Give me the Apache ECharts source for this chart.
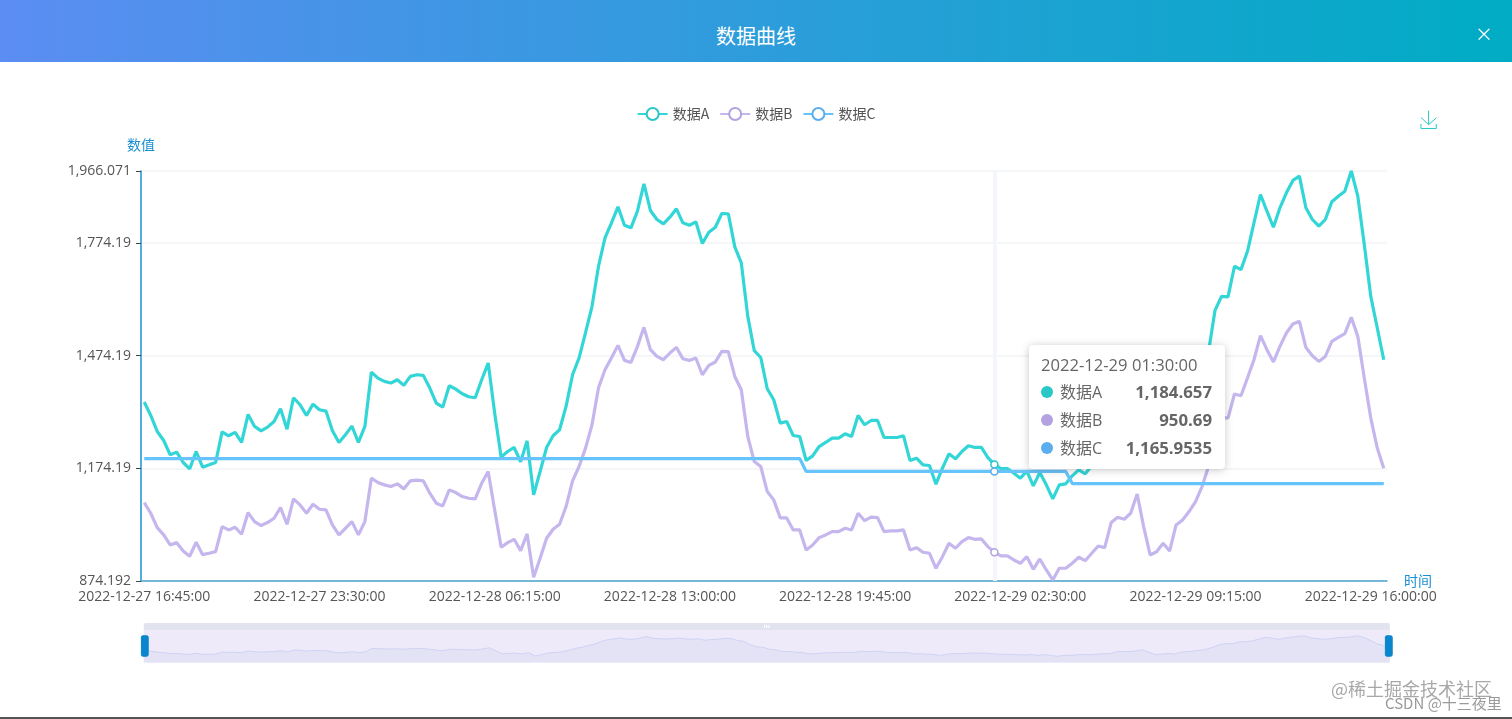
<!DOCTYPE html>
<html>
<head>
<meta charset="utf-8">
<title>数据曲线</title>
<script src="https://cdn.jsdelivr.net/npm/echarts@6/dist/echarts.min.js"></script>
<style>
  html, body { margin: 0; padding: 0; width: 1512px; height: 719px; overflow: hidden; background: #fff; font-family: "Noto Sans CJK SC", sans-serif; }
  #header { position: absolute; left: 0; top: 0; width: 1512px; height: 62px; line-height: 74px; text-align: center; color: #fff; font-size: 20px;
    background: linear-gradient(90deg, #5b8df2 0%, #00acc4 100%); }
  #header span { display: block; height: 62px; line-height: 72px; }
  #close { position: absolute; left: 1475px; top: 0; font-size: 18px; color: #fff; line-height: 66px; }
  #chart { position: absolute; left: 0; top: 0; width: 1512px; height: 719px; }
  .mark { position: absolute; white-space: nowrap; z-index: 5; }
  #bottomLine { position: absolute; left: 0; top: 717px; width: 1512px; height: 2px; background: #555; }
</style>
</head>
<body>
<div id="chart"></div>
<div id="header"><span>数据曲线</span><div id="close">×</div></div>
<div class="mark" style="left:1331px;top:675px;font-size:18px;color:#a8a8a8;">@稀土掘金技术社区</div>
<div class="mark" style="left:1385px;top:692px;font-size:15px;color:#9a9a9a;">CSDN @十三夜里</div>
<div id="bottomLine"></div>
<script>
var pointCount = 192;

var yTicks = [874.192, 1174.19, 1474.19, 1774.19, 1966.071];

var dataA = [
  1350.7, 1315.1, 1272.4, 1248.4, 1210.2, 1217.4, 1189.8, 1172.9, 1219.1, 1177.3,
  1183.5, 1189.8, 1271.5, 1260.9, 1269.8, 1243.1, 1317.8, 1285.8, 1274.2, 1284,
  1299.1, 1332.9, 1278.6, 1362.2, 1343.5, 1315.1, 1345.3, 1330.2, 1326.6, 1274.2,
  1243.1, 1263.5, 1286.6, 1243.1, 1285.8, 1430.6, 1414.6, 1405.8, 1401.3, 1410.2,
  1395.1, 1419.1, 1423.5, 1421.8, 1388, 1348, 1337.3, 1394.2, 1385.3, 1372.9,
  1364.9, 1362.2, 1410.2, 1454.6, 1321.3, 1204, 1219.1, 1229.8, 1191.5, 1247.5,
  1103.5, 1165.8, 1229.8, 1260.9, 1276.9, 1339.1, 1423.5, 1468, 1535.5, 1605.7,
  1712.4, 1788, 1828, 1870.7, 1821.7, 1814.7, 1859, 1932.1, 1860.9, 1836.9,
  1825.4, 1843, 1865.4, 1828, 1821.7, 1830.7, 1772.9, 1803, 1816.3, 1852.9,
  1852.1, 1764.1, 1721.4, 1579, 1487.5, 1469.4, 1386.2, 1356.9, 1294.7, 1299,
  1261.7, 1259, 1195, 1207.5, 1232.3, 1243.1, 1254.7, 1254.7, 1266.2, 1259,
  1315.1, 1290.2, 1301.7, 1301.7, 1256.3, 1256.3, 1256.3, 1260.9, 1195, 1201.4,
  1183.5, 1181.7, 1132.1, 1174.7, 1212.9, 1199.5, 1219.1, 1234.2, 1229.8, 1229.8,
  1203, 1184.657, 1173.7, 1173.7, 1161.4, 1148.1, 1167, 1127.5, 1163, 1130.2,
  1092.9, 1130.2, 1132.9, 1154.2, 1170.2, 1159.5, 1180.9, 1205.6, 1200, 1283,
  1301, 1294, 1314, 1378, 1270, 1176, 1186, 1214.6, 1189, 1275,
  1292, 1319.6, 1352.9, 1402.7, 1484.9, 1595, 1632.3, 1630.7, 1712.3, 1703.5,
  1752.3, 1828.1, 1903.5, 1859, 1816.3, 1868.1, 1908.1, 1940.9, 1952.3, 1868.1,
  1836.9, 1819, 1836.9, 1884.1, 1899, 1912.3, 1966.071, 1899, 1770.2, 1632.3,
  1548.1, 1463.5
];

var dataB = [
  1083, 1054.7, 1016.4, 996.9, 970.2, 976.4, 954.2, 940, 977.3, 944.4,
  948, 952.4, 1019.1, 1010.2, 1017.3, 998.6, 1056.4, 1032.4, 1021.8, 1029.8,
  1041.3, 1069.8, 1025.3, 1092.9, 1076.9, 1054.7, 1078.6, 1065.3, 1063.5, 1023.5,
  996.9, 1014.6, 1032.4, 996.9, 1032.4, 1148, 1136.4, 1130.2, 1125.8, 1132.9,
  1119.5, 1140.9, 1142.6, 1140.9, 1108, 1081.3, 1074.2, 1116.9, 1109.8, 1099.1,
  1094.6, 1092.9, 1134.6, 1165.8, 1063.5, 964, 976.4, 985.2, 955.1, 999.5,
  884, 934.6, 988, 1012, 1025.3, 1072.4, 1140.9, 1179.1, 1228, 1290.2,
  1388.9, 1436.9, 1468.9, 1501.7, 1461.7, 1456.3, 1499, 1549.7, 1490.2, 1472.3,
  1463.5, 1481.4, 1496.3, 1466.2, 1461.7, 1468.1, 1423.5, 1448.3, 1457.4, 1485.7,
  1484.9, 1419, 1383.5, 1259, 1192.3, 1179.1, 1112.3, 1090.2, 1042.2, 1042.2,
  1010.2, 1010.2, 956.9, 970.2, 989.7, 996.9, 1005.7, 1005.7, 1014.6, 1010.2,
  1054.7, 1035, 1044.1, 1043, 1005.7, 1007.5, 1007.5, 1010.2, 956.9, 963,
  950.7, 948, 908.1, 939, 974.7, 961.4, 979, 989.7, 985.2, 986.2,
  965.7, 950.69, 940.9, 940.9, 930.2, 921.4, 939, 905.4, 932.9, 903.5,
  876.9, 908.1, 908.1, 921.4, 937.4, 928.3, 948, 967.5, 963, 1029.7,
  1044, 1038.7, 1054.7, 1106, 1019, 943.5, 952, 974.7, 954, 1023.5,
  1036.8, 1059, 1085.7, 1125.7, 1179, 1280, 1309.8, 1308.1, 1372.1, 1367.5,
  1414.7, 1463.5, 1527.5, 1490.2, 1457.4, 1499, 1534.7, 1558.7, 1565.7, 1496.3,
  1474.2, 1459, 1472.3, 1512.3, 1523, 1532.9, 1576.3, 1525.7, 1414.7, 1308.1,
  1228.1, 1174.7
];

var dataC = [
  1200.3, 1200.3, 1200.3, 1200.3, 1200.3, 1200.3, 1200.3, 1200.3, 1200.3, 1200.3,
  1200.3, 1200.3, 1200.3, 1200.3, 1200.3, 1200.3, 1200.3, 1200.3, 1200.3, 1200.3,
  1200.3, 1200.3, 1200.3, 1200.3, 1200.3, 1200.3, 1200.3, 1200.3, 1200.3, 1200.3,
  1200.3, 1200.3, 1200.3, 1200.3, 1200.3, 1200.3, 1200.3, 1200.3, 1200.3, 1200.3,
  1200.3, 1200.3, 1200.3, 1200.3, 1200.3, 1200.3, 1200.3, 1200.3, 1200.3, 1200.3,
  1200.3, 1200.3, 1200.3, 1200.3, 1200.3, 1200.3, 1200.3, 1200.3, 1200.3, 1200.3,
  1200.3, 1200.3, 1200.3, 1200.3, 1200.3, 1200.3, 1200.3, 1200.3, 1200.3, 1200.3,
  1200.3, 1200.3, 1200.3, 1200.3, 1200.3, 1200.3, 1200.3, 1200.3, 1200.3, 1200.3,
  1200.3, 1200.3, 1200.3, 1200.3, 1200.3, 1200.3, 1200.3, 1200.3, 1200.3, 1200.3,
  1200.3, 1200.3, 1200.3, 1200.3, 1200.3, 1200.3, 1200.3, 1200.3, 1200.3, 1200.3,
  1200.3, 1200.3, 1165.9535, 1165.9535, 1165.9535, 1165.9535, 1165.9535, 1165.9535, 1165.9535, 1165.9535,
  1165.9535, 1165.9535, 1165.9535, 1165.9535, 1165.9535, 1165.9535, 1165.9535, 1165.9535, 1165.9535, 1165.9535,
  1165.9535, 1165.9535, 1165.9535, 1165.9535, 1165.9535, 1165.9535, 1165.9535, 1165.9535, 1165.9535, 1165.9535,
  1165.9535, 1165.9535, 1165.9535, 1165.9535, 1165.9535, 1165.9535, 1165.9535, 1165.9535, 1165.9535, 1165.9535,
  1165.9535, 1165.9535, 1165.9535, 1133.7, 1133.7, 1133.7, 1133.7, 1133.7, 1133.7, 1133.7,
  1133.7, 1133.7, 1133.7, 1133.7, 1133.7, 1133.7, 1133.7, 1133.7, 1133.7, 1133.7,
  1133.7, 1133.7, 1133.7, 1133.7, 1133.7, 1133.7, 1133.7, 1133.7, 1133.7, 1133.7,
  1133.7, 1133.7, 1133.7, 1133.7, 1133.7, 1133.7, 1133.7, 1133.7, 1133.7, 1133.7,
  1133.7, 1133.7, 1133.7, 1133.7, 1133.7, 1133.7, 1133.7, 1133.7, 1133.7, 1133.7,
  1133.7, 1133.7
];

// 时间轴：每15分钟一个点
function pad(n) { return n < 10 ? '0' + n : '' + n; }
var categories = [];
var t0 = Date.UTC(2022, 11, 27, 16, 45, 0);
for (var i = 0; i < pointCount; i++) {
  var d = new Date(t0 + i * 900000);
  categories.push(d.getUTCFullYear() + '-' + pad(d.getUTCMonth() + 1) + '-' + pad(d.getUTCDate()) + ' ' +
    pad(d.getUTCHours()) + ':' + pad(d.getUTCMinutes()) + ':00');
}

function fmt(v) {
  return Number(v).toLocaleString('en-US', { maximumFractionDigits: 4 });
}

var fontName = '"Open Sans", "Noto Sans CJK SC", sans-serif';
var myChart = echarts.init(document.getElementById('chart'), null, { renderer: 'canvas' });

function lineSeries(name, data, color, lineColor) {
  return {
    name: name,
    type: 'line',
    data: data,
    symbol: 'emptyCircle',
    symbolSize: 7,
    showSymbol: false,
    itemStyle: { color: color, borderWidth: 2 },
    lineStyle: { color: lineColor, width: 3.2 },
    // 高亮时颜色不变
    emphasis: { scale: false, lineStyle: { color: lineColor, width: 3.2 }, itemStyle: { color: '#fff', borderColor: color, borderWidth: 1.5 } }
  };
}

var option = {
  animation: false,
  textStyle: { fontFamily: fontName },
  legend: {
    top: 102,
    left: 'center',
    itemWidth: 30,
    itemHeight: 15,
    itemGap: 10,
    textStyle: { color: '#555', fontSize: 14, fontFamily: '"Noto Sans CJK SC", sans-serif' },
    data: ['数据A', '数据B', '数据C']
  },
  toolbox: {
    right: 58,
    top: 93,
    itemSize: 18,
    feature: { saveAsImage: { title: ' ', iconStyle: { borderColor: '#2bc8c8', borderWidth: 1 } } }
  },
  tooltip: {
    trigger: 'axis',
    alwaysShowContent: true,
    transitionDuration: 0,
    position: [1029, 345],
    padding: 0,
    borderWidth: 0,
    backgroundColor: '#fff',
    extraCssText: 'box-shadow:0 1px 8px rgba(0,0,0,.22);border-radius:4px;',
    axisPointer: { type: 'line', z: 1, lineStyle: { color: '#f4f6fb', width: 4, type: 'solid' } },
    formatter: function (params) {
      var html = '<div style="width:172px;padding:9px 12px 7px 12px;font-family:\'Open Sans\',\'Noto Sans CJK SC\',sans-serif;color:#666;font-size:16px;">' +
        '<div style="line-height:21px;margin-bottom:3px;font-size:16.6px;white-space:nowrap;">' + params[0].axisValue + '</div>';
      params.forEach(function (p) {
        html += '<div style="line-height:28px;height:28px;position:relative;">' +
          '<span style="display:inline-block;width:12px;height:12px;border-radius:50%;background:' + p.color + ';margin-right:7px;"></span>' +
          p.seriesName +
          '<span style="position:absolute;right:1px;top:0;font-weight:700;color:#666;font-size:16.8px;">' + fmt(p.value) + '</span></div>';
      });
      return html + '</div>';
    }
  },
  grid: { left: 141, right: 125, top: 171, height: 410 },
  xAxis: {
    type: 'category',
    data: categories,
    boundaryGap: true,
    name: '时间',
    nameGap: 17,
    nameTextStyle: { color: '#1a90d0', fontSize: 14, fontFamily: '"Noto Sans CJK SC", sans-serif' },
    axisLine: { lineStyle: { color: '#4ba3cc', width: 1.5 } },
    axisTick: { interval: 26, length: 5, lineStyle: { color: '#444' } },
    axisLabel: { interval: 26, color: '#555', fontSize: 14, margin: 9, hideOverlap: false },
    splitLine: { show: false }
  },
  yAxis: {
    type: 'value',
    min: 874.192,
    max: 1966.071,
    name: '数值',
    nameGap: 19,
    nameTextStyle: { color: '#1a90d0', fontSize: 14, fontFamily: '"Noto Sans CJK SC", sans-serif' },
    axisLine: { show: true, lineStyle: { color: '#1a90d0', width: 1.5 } },
    axisTick: { show: true, length: 5, customValues: yTicks, lineStyle: { color: '#444' } },
    axisLabel: { color: '#555', fontSize: 14, margin: 10, customValues: yTicks, formatter: function (v) { return fmt(v); } },
    splitLine: { show: true, lineStyle: { color: '#f5f6f8', width: 2 } }
  },
  dataZoom: [{
    type: 'slider',
    xAxisIndex: 0,
    left: 141,
    right: 125,
    top: 623,
    height: 33,
    start: 0,
    end: 100,
    showDetail: false,
    brushSelect: true,
    borderColor: 'transparent',
    backgroundColor: 'rgba(238,234,248,0.9)',
    fillerColor: 'rgba(238,234,248,0.6)',
    moveHandleSize: 7,
    moveHandleStyle: { color: '#e1e4ee', opacity: 1 },
    handleIcon: 'path://M1.5,0 L5.5,0 Q7,0 7,1.5 L7,19.5 Q7,21 5.5,21 L1.5,21 Q0,21 0,19.5 L0,1.5 Q0,0 1.5,0 Z',
    handleSize: '62%',
    handleStyle: { color: '#0a86cc', borderColor: '#0a86cc' },
    dataBackground: { lineStyle: { color: '#9fb0ee', width: 1 }, areaStyle: { color: '#d4d6f1', opacity: 1 } },
    selectedDataBackground: { lineStyle: { color: '#9fb0ee', width: 1 }, areaStyle: { color: '#d4d6f1', opacity: 1 } }
  }],
  series: [
    lineSeries('数据A', dataA, '#2ac7c9', '#33d6d6'),
    lineSeries('数据B', dataB, '#b3a2df', '#c5b6ee'),
    lineSeries('数据C', dataC, '#5aaeed', '#66c4fa')
  ]
};

myChart.setOption(option);
myChart.dispatchAction({ type: 'showTip', seriesIndex: 0, dataIndex: 131 });
</script>
</body>
</html>
